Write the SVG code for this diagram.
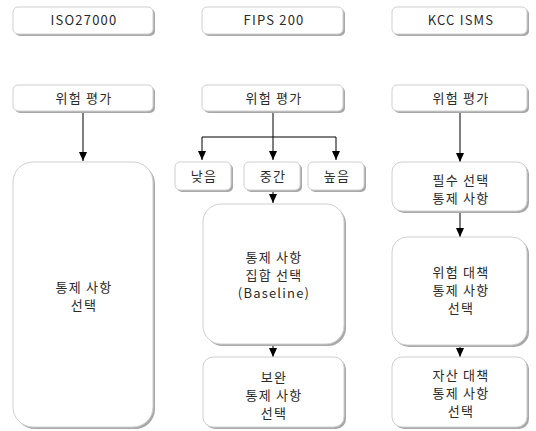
<svg xmlns="http://www.w3.org/2000/svg" width="536" height="431" viewBox="0 0 536 431">
<style>
.b{fill:#fff;stroke:#cfcfcf;stroke-width:1}
.s{fill:#a8a8a8}
text{font-family:"Noto Sans CJK KR","DejaVu Sans",sans-serif;font-size:13px;letter-spacing:1.2px;fill:#2a2a2a;text-anchor:middle}
.c{stroke:#000;stroke-width:1;fill:none}
</style>
<defs>
<marker id="m" markerWidth="10" markerHeight="10" refX="9" refY="5" orient="auto" markerUnits="userSpaceOnUse" viewBox="0 0 10 10">
<path d="M0,1 L9,5 L0,9 Z" fill="#000"/>
</marker>
</defs>
<g id="connectors">
<path class="c" d="M83,111 V161" marker-end="url(#m)"/>
<path class="c" d="M273,111 V160" marker-end="url(#m)"/>
<path class="c" d="M202,137 H336 V160" marker-end="url(#m)"/>
<path class="c" d="M202,137 V160" marker-end="url(#m)"/>
<path class="c" d="M273,190 V203" marker-end="url(#m)"/>
<path class="c" d="M273,343 V357" marker-end="url(#m)"/>
<path class="c" d="M460,111 V162" marker-end="url(#m)"/>
<path class="c" d="M460,211 V237" marker-end="url(#m)"/>
<path class="c" d="M460,345 V357" marker-end="url(#m)"/>
</g>
<g id="iso-title"><rect class="s" x="15" y="9" width="140" height="27" rx="5"/><rect class="b" x="13" y="7" width="140" height="27" rx="5"/><text x="84" y="25">ISO27000</text></g>
<g id="fips-title"><rect class="s" x="204" y="9" width="141" height="27" rx="5"/><rect class="b" x="202" y="7" width="141" height="27" rx="5"/><text x="274" y="25">FIPS 200</text></g>
<g id="kcc-title"><rect class="s" x="394" y="9" width="135" height="27" rx="5"/><rect class="b" x="392" y="7" width="135" height="27" rx="5"/><text x="461" y="25">KCC ISMS</text></g>
<g id="iso-risk"><rect class="s" x="15" y="87" width="140" height="26" rx="5"/><rect class="b" x="13" y="85" width="140" height="26" rx="5"/><text x="84" y="103">위험 평가</text></g>
<g id="fips-risk"><rect class="s" x="204" y="87" width="141" height="26" rx="5"/><rect class="b" x="202" y="85" width="141" height="26" rx="5"/><text x="274" y="103">위험 평가</text></g>
<g id="kcc-risk"><rect class="s" x="394" y="87" width="135" height="26" rx="5"/><rect class="b" x="392" y="85" width="135" height="26" rx="5"/><text x="461" y="103">위험 평가</text></g>
<g id="iso-select"><rect class="s" x="15" y="164" width="140" height="265" rx="20"/><rect class="b" x="13" y="162" width="140" height="265" rx="20"/><text x="84" y="292">통제 사항</text><text x="84" y="310">선택</text></g>
<g id="low"><rect class="s" x="177" y="164" width="56" height="28" rx="5"/><rect class="b" x="175" y="162" width="56" height="28" rx="5"/><text x="204" y="181">낮음</text></g>
<g id="mid"><rect class="s" x="246" y="164" width="56" height="28" rx="5"/><rect class="b" x="244" y="162" width="56" height="28" rx="5"/><text x="273" y="181">중간</text></g>
<g id="high"><rect class="s" x="310" y="164" width="56" height="28" rx="5"/><rect class="b" x="308" y="162" width="56" height="28" rx="5"/><text x="337" y="181">높음</text></g>
<g id="baseline"><rect class="s" x="205" y="206" width="141" height="140" rx="18"/><rect class="b" x="203" y="204" width="141" height="140" rx="18"/><text x="274" y="262">통제 사항</text><text x="274" y="280">집합 선택</text><text x="274" y="298">(Baseline)</text></g>
<g id="supplement"><rect class="s" x="205" y="359" width="141" height="70" rx="10"/><rect class="b" x="203" y="357" width="141" height="70" rx="10"/><text x="274" y="382">보완</text><text x="274" y="400">통제 사항</text><text x="274" y="418">선택</text></g>
<g id="mandatory"><rect class="s" x="394" y="164" width="135" height="49" rx="10"/><rect class="b" x="392" y="162" width="135" height="49" rx="10"/><text x="461" y="185">필수 선택</text><text x="461" y="203">통제 사항</text></g>
<g id="risk-counter"><rect class="s" x="394" y="239" width="135" height="108" rx="15"/><rect class="b" x="392" y="237" width="135" height="108" rx="15"/><text x="461" y="277">위험 대책</text><text x="461" y="295">통제 사항</text><text x="461" y="313">선택</text></g>
<g id="asset-counter"><rect class="s" x="394" y="359" width="135" height="70" rx="10"/><rect class="b" x="392" y="357" width="135" height="70" rx="10"/><text x="461" y="380">자산 대책</text><text x="461" y="398">통제 사항</text><text x="461" y="416">선택</text></g>
</svg>
